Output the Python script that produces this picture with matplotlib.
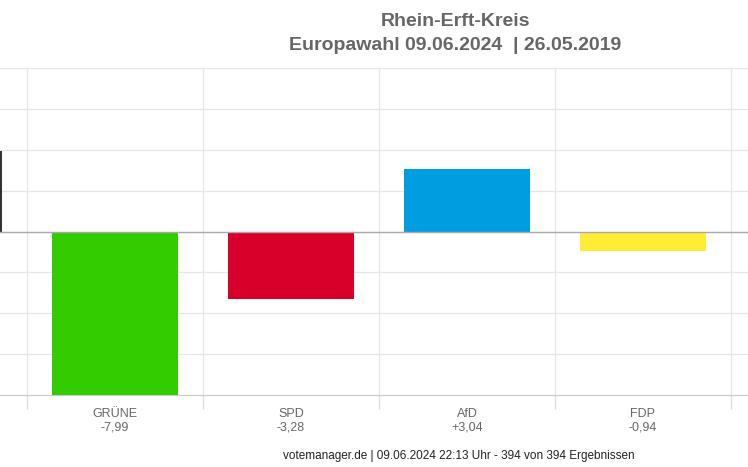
import matplotlib
matplotlib.use("Agg")
import matplotlib.pyplot as plt
import numpy as np

# party difference 2024 vs 2019 (percentage points)
PARTIES = ["CDU", "GRÜNE", "SPD", "AfD", "FDP"]
DIFFS = [3.95, -7.99, -3.28, 3.04, -0.94]
LABELS = ["", "-7,99", "-3,28", "+3,04", "-0,94"]
COLORS = ["#333333", "#33cc00", "#d8002a", "#009ee0", "#feed34"]
Y_TICKS = [-8, -6, -4, -2, 0, 2, 4, 6, 8]

FONTS = ["Liberation Sans Narrow", "Liberation Sans", "DejaVu Sans"]
plt.rcParams["font.family"] = FONTS

W, H = 748, 467
fig = plt.figure(figsize=(W / 100, H / 100), dpi=100)
ax = fig.add_axes([0, (H - 395) / H, 1.0, (395 - 68) / H])

x = np.arange(len(PARTIES)) - 1
ax.bar(x, DIFFS, width=0.716, color=COLORS, zorder=3)

ax.set_yticks(Y_TICKS)
ax.set_yticklabels([])
ax.tick_params(axis="y", length=0)
ax.grid(axis="y", color="#e6e6e6", linewidth=0.9, zorder=0)

ax.set_xticks(x)
ax.set_xticklabels([])
ax.tick_params(axis="x", which="major", length=0)
ax.set_xticks(np.arange(-1.5, 4.0, 1.0), minor=True)
ax.tick_params(axis="x", which="minor", length=10, color="#dddddd", width=0.9)
ax.grid(axis="x", which="minor", color="#e6e6e6", linewidth=0.9, zorder=0)
ax.set_xlim(-0.653, 3.597)
ax.set_ylim(-8, 8)

ax.axhline(0, color="#aaaaaa", linewidth=1, zorder=4)
for side in ["top", "left", "right"]:
    ax.spines[side].set_visible(False)
ax.spines["bottom"].set_color("#cccccc")

for xi, party, lab in zip(x, PARTIES, LABELS):
    if not lab:
        continue
    ax.annotate(f"{party}\n{lab}", xy=(xi, 0), xycoords=("data", "axes fraction"),
                xytext=(0, -9.5), textcoords="offset points", ha="center", va="top",
                fontsize=9, color="#666666", linespacing=1.1)

fig.text(455 / W, 1 - 21 / H, "Rhein-Erft-Kreis", ha="center", va="center",
         fontsize=14, fontweight="bold", color="#666666")
fig.text(455 / W, 1 - 46 / H, "Europawahl 09.06.2024  | 26.05.2019", ha="center", va="center",
         fontsize=14, fontweight="bold", color="#666666")
fig.text(459 / W, 1 - 456 / H,
         "votemanager.de | 09.06.2024 22:13 Uhr - 394 von 394 Ergebnissen",
         ha="center", va="center", fontsize=8.5, color="#222222")

fig.savefig("out.png", dpi=100)
